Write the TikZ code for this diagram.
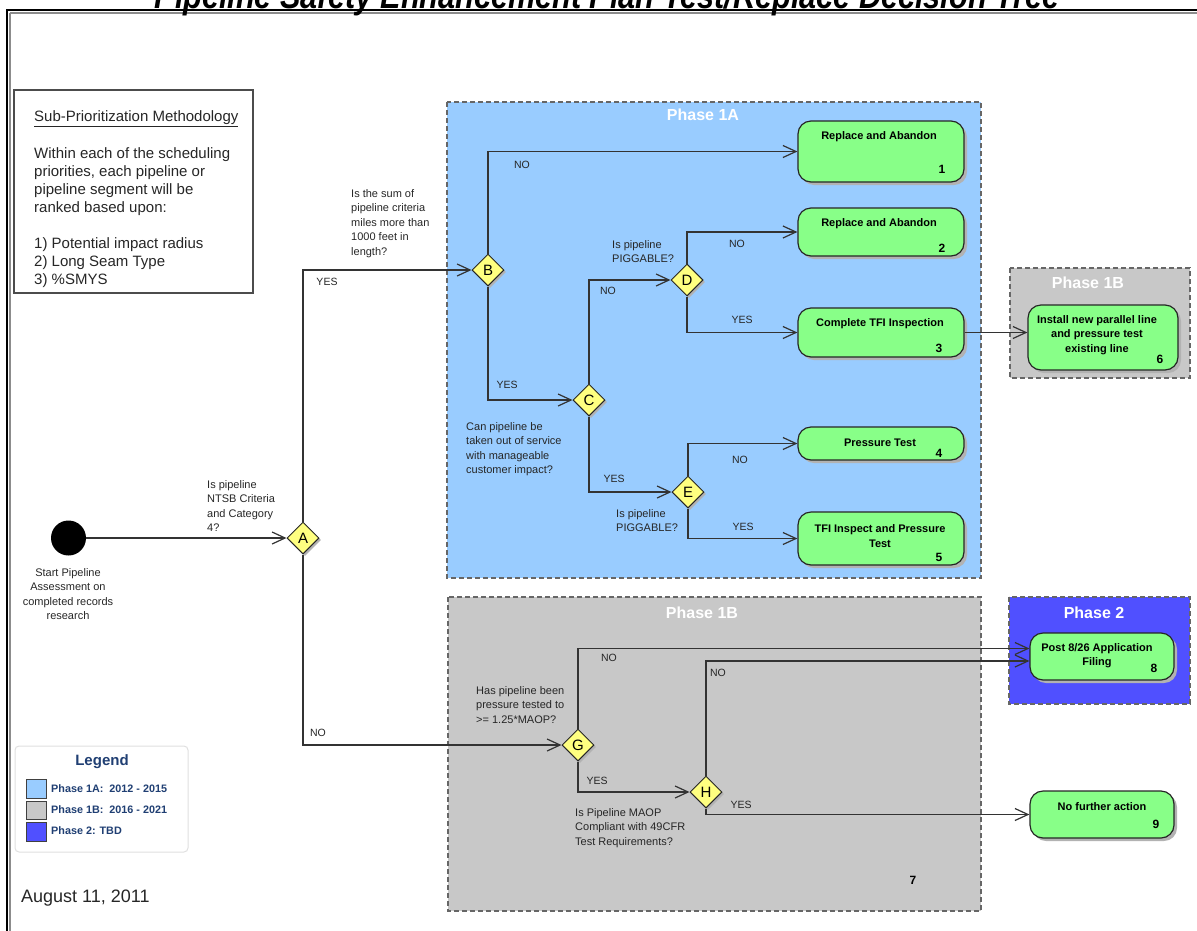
\documentclass[tikz,border=0pt]{standalone}
\usepackage{fontspec}
\setmainfont{Liberation Sans}
\usetikzlibrary{shapes.geometric,arrows.meta,shadows}

\definecolor{phaseA}{HTML}{99CCFF}
\definecolor{phaseB}{HTML}{C8C8C8}
\definecolor{phaseC}{HTML}{5050FF}
\definecolor{boxgreen}{HTML}{88FF88}
\definecolor{decyellow}{HTML}{FFFF80}
\definecolor{legblue}{HTML}{203F73}
\definecolor{wire}{HTML}{333333}

\tikzset{
  phase/.style={draw=black!60, line width=1.5pt, dash pattern=on 5pt off 3pt},
  phasettl/.style={text=white, font=\fontsize{16}{16}\selectfont\bfseries, inner sep=0pt},
  act/.style={draw=black!85, line width=1.2pt, fill=boxgreen, rounded corners=13pt, inner sep=0pt,
    drop shadow={shadow xshift=3pt, shadow yshift=-3pt, fill=black!30, opacity=1}},
  acttxt/.style={font=\fontsize{11}{14.5}\selectfont\bfseries, align=center, inner sep=0pt},
  num/.style={font=\fontsize{12}{12}\selectfont\bfseries, inner sep=0pt},
  dec/.style={diamond, aspect=1, draw=black!85, line width=1pt, fill=decyellow, minimum size=32pt,
    inner sep=0pt, font=\fontsize{15}{15}\selectfont,
    drop shadow={shadow xshift=2pt, shadow yshift=-2pt, fill=black!30, opacity=1}},
  lbl/.style={font=\fontsize{11}{14.6}\selectfont, align=left, anchor=north west, inner sep=0pt, text=black!85},
  yn/.style={font=\fontsize{10.5}{10.5}\selectfont, inner sep=0pt, text=black!85},
  legtxt/.style={font=\fontsize{10.8}{10.8}\selectfont\bfseries, text=legblue, anchor=west, inner sep=0pt},
  title/.style={anchor=base, inner sep=0pt, xscale=0.85, font=\fontsize{36}{36}\selectfont\bfseries\itshape},
  link/.style={draw=wire, line width=1.2pt, ->},
}

\begin{document}
\begin{tikzpicture}[x=1pt, y=-1pt, >={Straight Barb[length=13pt,width=12pt]}]
\useasboundingbox (0,0) rectangle (1197,930);

% frame and title
\draw[black!45, line width=1.5pt] (10,13) -- (1200,13);
\draw[black!45, line width=1.5pt] (10,13) -- (10,935);
\draw[line width=1.5pt] (1200,10) -| (7,935);
\node[title] (ttl) at (607,8) {Pipeline Safety Enhancement Plan Test/Replace Decision Tree};

% phase areas
\draw[phase, fill=phaseA] (447,102) rectangle (981,578);
\draw[phase, fill=phaseB] (1010,268) rectangle (1190,378);
\draw[phase, fill=phaseB] (448,597) rectangle (981,911);
\draw[phase, fill=phaseC] (1009,597) rectangle (1190,704);
\node[phasettl] (p1a) at (703,115) {Phase 1A};
\node[phasettl] (p1bs) at (1088,283) {Phase 1B};
\node[phasettl] (p1b) at (702,613) {Phase 1B};
\node[phasettl] (p2) at (1094,613) {Phase 2};
\node[num] (n7) at (913,880) {7};

% sub-prioritization note
\draw[black!70, line width=1.2pt] (14,90) rectangle (253,293);
\node[anchor=north west, align=left, inner sep=0pt, font=\fontsize{15}{18}\selectfont, text=black!85] (subtxt) at (34,110.5)
  {\underline{Sub-Prioritization Methodology}\\[19pt]
   Within each of the scheduling\\ priorities, each pipeline or\\ pipeline segment will be\\ ranked based upon:\\[18pt]
   1) Potential impact radius\\ 2) Long Seam Type\\ 3) \%SMYS};

% start
\node[circle, fill=black, minimum size=35pt, inner sep=0pt] (st) at (68.5,538) {};
\node[lbl, align=center, anchor=north] (stq) at (68,568) {Start Pipeline\\ Assessment on\\ completed records\\ research};

% decisions
\node[dec] (A) at (303,538) {A};
\node[dec] (B) at (488,270) {B};
\node[dec] (C) at (589,400) {C};
\node[dec] (D) at (687,280) {D};
\node[dec] (E) at (688,492) {E};
\node[dec] (G) at (578,745) {G};
\node[dec] (H) at (706,792) {H};

\node[lbl] (aq) at (207,480) {Is pipeline\\ NTSB Criteria\\ and Category\\ 4?};
\node[lbl] (bq) at (351,189) {Is the sum of\\ pipeline criteria\\ miles more than\\ 1000 feet in\\ length?};
\node[lbl] (cq) at (466,422) {Can pipeline be\\ taken out of service\\ with manageable\\ customer impact?};
\node[lbl] (dq) at (612,240) {Is pipeline\\ PIGGABLE?};
\node[lbl] (eq) at (616,509) {Is pipeline\\ PIGGABLE?};
\node[lbl] (gq) at (476,686) {Has pipeline been\\ pressure tested to\\ >= 1.25*MAOP?};
\node[lbl] (hq) at (575,808) {Is Pipeline MAOP\\ Compliant with 49CFR\\ Test Requirements?};

% actions
\node[act, minimum width=166pt, minimum height=61pt] (r1) at (881,151.5) {};
\node[act, minimum width=166pt, minimum height=48pt] (r2) at (881,232) {};
\node[act, minimum width=166pt, minimum height=49pt] (r3) at (881,332.5) {};
\node[act, minimum width=166pt, minimum height=33pt] (r4) at (881,443.5) {};
\node[act, minimum width=166pt, minimum height=53pt] (r5) at (881,538.5) {};
\node[act, minimum width=150pt, minimum height=65pt] (r6) at (1103,337.5) {};
\node[act, minimum width=144pt, minimum height=47pt] (r8) at (1102,656.5) {};
\node[act, minimum width=144pt, minimum height=47pt] (r9) at (1102,814.5) {};

\node[acttxt] (r1t) at (879,137) {Replace and Abandon};
\node[acttxt] (r2t) at (879,224) {Replace and Abandon};
\node[acttxt] (r3t) at (880,324) {Complete TFI Inspection};
\node[acttxt] (r4t) at (880,443) {Pressure Test};
\node[acttxt] (r5t) at (880,536) {TFI Inspect and Pressure\\ Test};
\node[acttxt] (r6t) at (1097,335) {Install new parallel line\\ and pressure test\\ existing line};
\node[acttxt] (r8t) at (1097,655.5) {Post 8/26 Application\\ Filing};
\node[acttxt] (r9t) at (1102,807) {No further action};
\node[num] (r1n) at (942,169) {1};
\node[num] (r2n) at (942,248) {2};
\node[num] (r3n) at (939,348) {3};
\node[num] (r4n) at (939,453) {4};
\node[num] (r5n) at (939,557) {5};
\node[num] (r6n) at (1160,359) {6};
\node[num] (r8n) at (1154,668) {8};
\node[num] (r9n) at (1156,824) {9};

% connectors
\draw[link] (st) -- (A);
\draw[link] (A.north) |- (B.west);
\draw[link] (A.south) |- (G.west);
\draw[link] (B.north) |- (r1.west);
\draw[link] (B.south) |- (C.west);
\draw[link] (C.north) |- (D.west);
\draw[link] (C.south) |- (E.west);
\draw[link] (D.north) |- (r2.west);
\draw[link] (D.south) |- (r3.west);
\draw[link] (E.north) |- (r4.west);
\draw[link] (E.south) |- (r5.west);
\draw[link] (r3.east) -- (r3.east -| r6.west);
\draw[link] (G.north) |- ([yshift=8pt]r8.west);
\draw[link] (H.north) |- ([yshift=-4.5pt]r8.west);
\draw[link] (G.south) |- (H.west);
\draw[link] (H.south) |- (r9.west);

\node[yn] (aY) at (327,282) {YES};
\node[yn] (aN) at (318,733) {NO};
\node[yn] (bN) at (522,165) {NO};
\node[yn] (bY) at (507,385) {YES};
\node[yn] (cN) at (608,291) {NO};
\node[yn] (cY) at (614,479) {YES};
\node[yn] (dN) at (737,244) {NO};
\node[yn] (dY) at (742,320) {YES};
\node[yn] (eN) at (740,460) {NO};
\node[yn] (eY) at (743,527) {YES};
\node[yn] (gN) at (609,658) {NO};
\node[yn] (gY) at (597,781) {YES};
\node[yn] (hN) at (718,673) {NO};
\node[yn] (hY) at (741,805) {YES};

% legend
\draw[black!12, line width=1pt, fill=white, rounded corners=4pt] (15,746) rectangle (188,852);
\node[font=\fontsize{15}{15}\selectfont\bfseries, text=legblue] (legttl) at (102,762) {Legend};
\draw[black!75, line width=1pt, fill=phaseA] (26,779) rectangle (46,798);
\draw[black!75, line width=1pt, fill=phaseB] (26,801) rectangle (46,819);
\draw[black!75, line width=1pt, fill=phaseC] (26,822) rectangle (46,841);
\node[legtxt] (leg1) at (51,789) {Phase 1A:\ \ 2012 - 2015};
\node[legtxt] (leg2) at (51,810) {Phase 1B:\ \ 2016 - 2021};
\node[legtxt] (leg3) at (51,831) {Phase 2: TBD};

\node[anchor=west, inner sep=0pt, font=\fontsize{18}{18}\selectfont, text=black!85] (date) at (21,898) {August 11, 2011};
\end{tikzpicture}
\end{document}
